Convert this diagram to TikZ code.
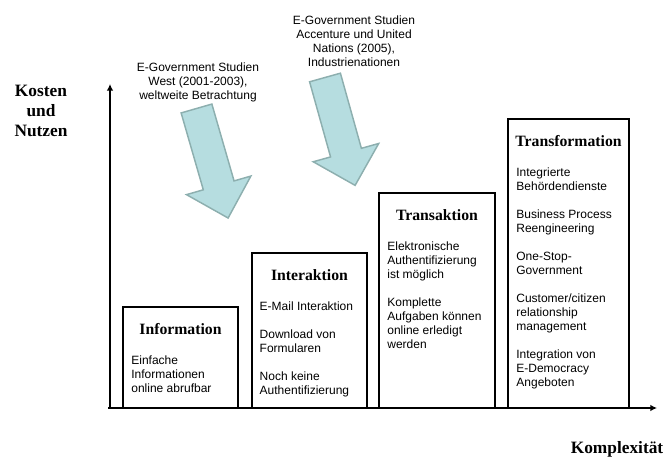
\documentclass[tikz,border=0pt]{standalone}
\usepackage{fontspec}
\setmainfont{Liberation Serif}
\setsansfont{Liberation Sans}
\usepackage{xcolor}
\usepackage{tikz}
\usetikzlibrary{arrows.meta, positioning, fit}
\definecolor{arrowfill}{HTML}{B6DDE0}
\definecolor{arrowline}{HTML}{8DAFAF}

\begin{document}
\begin{tikzpicture}[
  x=0.75pt, y=0.75pt,
  stage/.style={draw, line width=0.8pt, inner sep=0pt},
  stagetitle/.style={inner sep=0pt, text height=8.5pt, text depth=0pt, font=\fontsize{11.8}{13}\selectfont\bfseries},
  stagetext/.style={inner sep=0pt, align=left, font=\sffamily\fontsize{9}{10.5}\selectfont},
  study/.style={inner sep=0pt, align=center, font=\sffamily\fontsize{9}{10.5}\selectfont},
  axislabel/.style={inner sep=0pt, align=center, font=\fontsize{13}{15}\selectfont\bfseries},
  axis/.style={-{Latex[length=5pt, width=5pt]}, line width=1.5pt},
  blockarrow/.style={fill=arrowfill, draw=arrowline, line width=1.1pt, line join=miter},
]
\useasboundingbox (0,0) rectangle (665,458);

% axes
\coordinate (origin) at (110,50);
\coordinate (yend) at (110,374);
\coordinate (xend) at (657,50);
\draw[axis] (origin) -- (yend);
\draw[axis] ([xshift=-1.5pt]origin) -- (xend);

\node[axislabel] (costs) at (41,347) {Kosten\\und\\Nutzen};
\node[axislabel] (complexity) at (617,9) {Komplexität};

% stages
\node[stage, fit={(123,50) (238,151)}] (info) {};
\node[stage, fit={(252,50) (367,205)}] (inter) {};
\node[stage, fit={(379,50) (495,265)}] (trans) {};
\node[stage, fit={(508,50) (629,339)}] (transf) {};

\node[stagetitle, below=12.3pt of info.north] (infoTitle) {Information};
\node[stagetitle, below=12.3pt of inter.north] (interTitle) {Interaktion};
\node[stagetitle, below=12.3pt of trans.north] (transTitle) {Transaktion};
\node[stagetitle, below=12.3pt of transf.north] (transfTitle) {Transformation};

\node[stagetext, below right=36.5pt and 6.5pt of info.north west] (infoText)
  {Einfache\\Informationen\\online abrufbar};
\node[stagetext, below right=36.5pt and 6pt of inter.north west] (interText)
  {E-Mail Interaktion\\[10.5pt]Download von\\Formularen\\[10.5pt]Noch keine\\Authentifizierung};
\node[stagetext, below right=36.5pt and 6.5pt of trans.north west] (transText)
  {Elektronische\\Authentifizierung\\ist möglich\\[10.5pt]Komplette\\Aufgaben können\\online erledigt\\werden};
\node[stagetext, below right=36.5pt and 6.5pt of transf.north west] (transfText)
  {Integrierte\\Behördendienste\\[10.5pt]Business Process\\Reengineering\\[10.5pt]One-Stop-\\Government\\[10.5pt]Customer/citizen\\relationship\\management\\[10.5pt]Integration von\\E-Democracy\\Angeboten};

% studies
\node[study] (westStudy) at (198,376) {E-Government Studien\\West (2001-2003),\\weltweite Betrachtung};
\node[study] (accStudy) at (354,417) {E-Government Studien\\Accenture und United\\Nations (2005),\\Industrienationen};

\draw[blockarrow, shift={(196.5,349.5)}, rotate=-73.9]
  (0,16) -- (80,16) -- (80,33.5) -- (114,0) -- (80,-33.5) -- (80,-16) -- (0,-16) -- cycle;
\draw[blockarrow, shift={(325,380.5)}, rotate=-74.4]
  (0,16) -- (78,16) -- (78,34) -- (112,0) -- (78,-34) -- (78,-16) -- (0,-16) -- cycle;

\end{tikzpicture}
\end{document}
